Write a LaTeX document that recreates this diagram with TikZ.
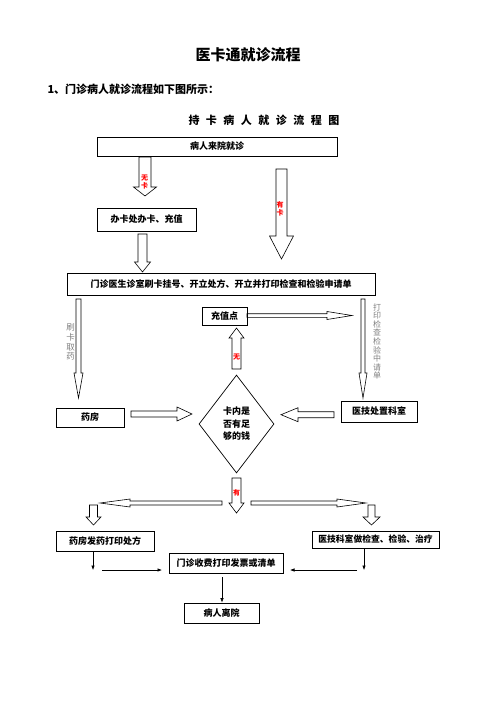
\documentclass[tikz,border=0pt]{standalone}
\usepackage{fontspec}
\setmainfont{Noto Sans CJK SC}
\usetikzlibrary{arrows.meta,shapes.geometric}

\tikzset{
  box/.style={draw, line width=0.7pt, inner sep=0pt, font=\bfseries\fontsize{9}{11}\selectfont},
  blockline/.style={draw, line width=0.6pt, line join=miter},
  thinline/.style={line width=0.6pt, -{Latex[length=4.5pt,width=3.5pt]}},
  redtxt/.style={text=red, font=\bfseries\fontsize{7}{8}\selectfont, align=center, inner sep=0pt},
  graytxt/.style={text=black!50, align=center, inner sep=0pt},
}

% start x, start y, angle, length, shaft half, head half, head length
\newcommand{\blockarrow}[7]{%
  \draw[blockline, shift={(#1,#2)}, rotate=#3]
    (0,-#5) -- ({#4-#7},-#5) -- ({#4-#7},-#6) -- (#4,0)
    -- ({#4-#7},#6) -- ({#4-#7},#5) -- (0,#5) -- cycle;}

\begin{document}
\begin{tikzpicture}[x=1pt, y=-1pt]
\useasboundingbox (0,0) rectangle (496,702);

\def\gap{\hspace{6.5pt}}

% headings
\node (title) at (248,55) {\bfseries\fontsize{15}{15}\selectfont 医卡通就诊流程};
\node[anchor=west] (intro) at (44,89) {\bfseries\fontsize{11}{11}\selectfont 1、门诊病人就诊流程如下图所示：};
\node (head) at (264,120) {\bfseries\fontsize{11}{11}\selectfont 持\gap 卡\gap 病\gap 人\gap 就\gap 诊\gap 流\gap 程\gap 图};

% boxes
\node[box, minimum width=240, minimum height=19] (visit) at (217,146.5) {病人来院就诊};
\node[box, minimum width=99, minimum height=23] (card) at (146.5,219.5) {办卡处办卡、充值};
\node[box, minimum width=308, minimum height=22] (doctor) at (221,284) {门诊医生诊室刷卡挂号、开立处方、开立并打印检查和检验申请单};
\node[box, minimum width=45, minimum height=18] (topup) at (224.5,316) {充值点};
\node[box, minimum width=68, minimum height=19] (pharm) at (90,417.5) {药房};
\node[box, minimum width=76, minimum height=21] (tech) at (379,411.5) {医技处置科室};
\node[box, diamond, minimum width=75, minimum height=98, align=center,
      font=\bfseries\fontsize{9}{12.5}\selectfont] (money) at (236.5,424) {卡内是\\否有足\\够的钱};
\node[box, minimum width=98, minimum height=20] (dispense) at (105,541) {药房发药打印处方};
\node[box, minimum width=127, minimum height=17, font=\bfseries\fontsize{8.8}{11}\selectfont] (exam) at (375.5,539.5) {医技科室做检查、检验、治疗};
\node[box, minimum width=114, minimum height=20] (cashier) at (226,563) {门诊收费打印发票或清单};
\node[box, minimum width=75, minimum height=20] (leave) at (221.5,613) {病人离院};

% block arrows
\blockarrow{145}{157}{-90}{39}{6}{11.5}{9}
\blockarrow{281.5}{169}{-90}{90}{5.5}{12}{23}
\blockarrow{142.5}{234}{-90}{38}{4.5}{8}{10}
\blockarrow{236.5}{369}{90}{41}{4.5}{7.5}{10}
\blockarrow{247}{315.5}{0}{105}{1.8}{4}{25}
\blockarrow{78.5}{299}{-90}{99}{2.5}{4.5}{25}
\blockarrow{363}{299}{-90}{99}{2}{4}{25}
\blockarrow{131}{414}{0}{61}{3}{7}{15}
\blockarrow{334}{414.7}{180}{53}{3}{7}{17}
\blockarrow{236.5}{478}{-90}{35}{4.5}{7.5}{10}
\blockarrow{222}{503}{180}{122}{2}{4}{30}
\blockarrow{251}{503}{0}{115}{2}{4}{29}
\blockarrow{93.5}{505}{-90}{20}{4}{7.5}{8}
\blockarrow{371.5}{505}{-90}{20}{3.5}{8.5}{8}

% labels on arrows
\node[redtxt] (nocard) at (144.5,182) {无\\卡};
\node[redtxt] (hascard) at (280,209) {有\\卡};
\node[redtxt] (nomoney) at (236.5,357) {无};
\node[redtxt] (hasmoney) at (236.5,493) {有};
\node[graytxt, font=\fontsize{8.5}{9.7}\selectfont] (take) at (70.5,342) {刷\\卡\\取\\药};
\node[graytxt, font=\fontsize{8}{8.6}\selectfont] (print) at (377,341.5) {打\\印\\检\\查\\检\\验\\中\\请\\单};

% thin arrows
\coordinate (pl) at (93,570);
\coordinate (pa) at (102,570);
\coordinate (pb) at (162,570);
\coordinate (el) at (364,570);
\coordinate (ea) at (357,570);
\coordinate (eb) at (290,570);
\coordinate (cl) at (222,577);

\draw[thinline] (pl |- dispense.south) -- (pl);
\draw[thinline] (pa) -- (pb);
\draw[thinline] (el |- exam.south) -- (el);
\draw[thinline] (ea) -- (eb);
\draw[thinline] (cl) -- (cl |- leave.north);

\end{tikzpicture}
\end{document}
